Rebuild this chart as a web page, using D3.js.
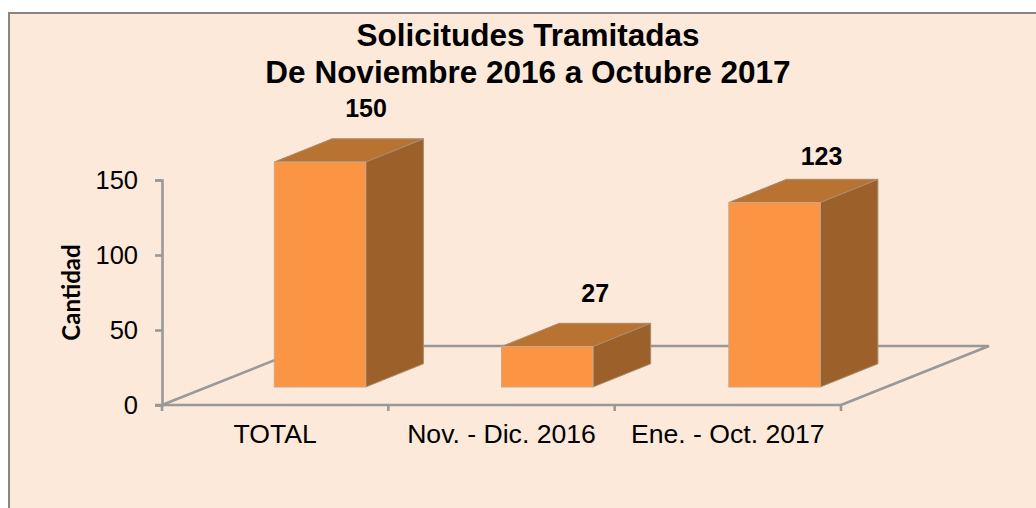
<!DOCTYPE html>
<html><head><meta charset="utf-8">
<script src="https://cdn.jsdelivr.net/npm/d3@7/dist/d3.min.js"></script>
<style>html,body{margin:0;padding:0;background:#fff}svg{display:block}</style>
</head><body><svg id="c" width="1036" height="508"></svg>
<script>
const categories = ["TOTAL", "Nov. - Dic. 2016", "Ene. - Oct. 2017"];
const values = [150, 27, 123];
const yTicks = [0, 50, 100, 150];
const titleLines = ["Solicitudes Tramitadas", "De Noviembre 2016 a Octubre 2017"];
const yTitle = "Cantidad";

const svg = d3.select("#c");
const font = "'Liberation Sans', Arial, sans-serif";
svg.append("rect").attr("x", 9).attr("y", 13).attr("width", 1040).attr("height", 600)
  .attr("fill", "#FDE9D9").attr("stroke", "#868686").attr("stroke-width", 2);

const x = d3.scaleBand().domain(categories).range([162, 841]);
const y = d3.scaleLinear().domain([0, 150]).range([405, 180]);
const barCx = d3.scalePoint().domain(categories).range([320, 774.5]);
const depth = {dx: 148, dy: -59};
const bw = 91.4;
const barDx = 57.7, barDy = -23.2, offY = -18;
const axisC = "#999999";
const axisW = 2.6;
const labelDx = [46, 48, 47];
const labelGap = [45, 45, 38];

const g = svg.append("g");
g.append("path").attr("fill", "none").attr("stroke", axisC).attr("stroke-width", axisW)
  .attr("d", d3.line()([[162, 405], [162 + depth.dx, 405 + depth.dy], [841 + depth.dx, 405 + depth.dy], [841, 405]]));

const yAxis = d3.axisLeft(y).tickValues(yTicks).tickSize(7).tickPadding(17);
const ya = g.append("g").attr("transform", "translate(162,0)").call(yAxis);
const tickPos = categories.map(c => x(c)).concat([x.range()[1]]);
const xa = g.append("g");
xa.append("line").attr("x1", 155).attr("x2", 841).attr("y1", 405).attr("y2", 405).attr("stroke", axisC).attr("stroke-width", axisW);
xa.selectAll("line.t").data(tickPos).join("line").attr("class", "t")
  .attr("x1", d => d).attr("x2", d => d).attr("y1", 405).attr("y2", 411).attr("stroke", axisC).attr("stroke-width", axisW);
ya.selectAll("path,line").attr("stroke", axisC).attr("stroke-width", axisW);
ya.selectAll("text").attr("font-family", font).attr("font-size", 25.5).attr("fill", "#000");
xa.selectAll("text.c").data(categories).join("text").attr("class", "c")
  .attr("x", d => x(d) + x.bandwidth() / 2).attr("y", 443).attr("text-anchor", "middle")
  .attr("font-family", font).attr("font-size", 26.6).text(d => d);

const bars = g.selectAll("g.bar").data(values).join("g").attr("class", "bar");
const left = (d, i) => barCx(categories[i]) - bw / 2;
const base = y(0) + offY;
const barTop = d => base - (y(0) - y(d));
bars.append("path").attr("fill", "#9C612B").attr("stroke", "#A88C70").attr("stroke-width", 1)
  .attr("d", (d, i) => { const l = left(d, i) + bw, t = barTop(d);
    return d3.line()([[l, t], [l + barDx, t + barDy], [l + barDx, base + barDy], [l, base]]) + "Z"; });
bars.append("path").attr("fill", "#B87232").attr("stroke", "#A88C70").attr("stroke-width", 1)
  .attr("d", (d, i) => { const l = left(d, i), t = barTop(d);
    return d3.line()([[l, t], [l + barDx, t + barDy], [l + bw + barDx, t + barDy], [l + bw, t]]) + "Z"; });
bars.append("rect").attr("fill", "#FB9543").attr("stroke", "#C8A88C").attr("stroke-width", 1)
  .attr("x", left).attr("width", bw)
  .attr("y", barTop).attr("height", d => y(0) - y(d));
bars.append("text").attr("font-family", font).attr("font-weight", "bold").attr("font-size", 25)
  .attr("text-anchor", "middle")
  .attr("x", (d, i) => left(d, i) + bw / 2 + labelDx[i])
  .attr("y", (d, i) => barTop(d) - labelGap[i])
  .text(d => d);

svg.selectAll("text.title").data(titleLines).join("text").attr("class", "title")
  .attr("x", 528).attr("y", (d, i) => 46 + i * 37).attr("text-anchor", "middle")
  .attr("font-family", font).attr("font-weight", "bold").attr("font-size", 31.5).text(d => d);
svg.append("text").attr("transform", "translate(80,292.5) rotate(-90)").attr("text-anchor", "middle")
  .attr("font-family", "Lato, sans-serif").attr("font-weight", "bold").attr("font-size", 24).text(yTitle);
</script></body></html>
